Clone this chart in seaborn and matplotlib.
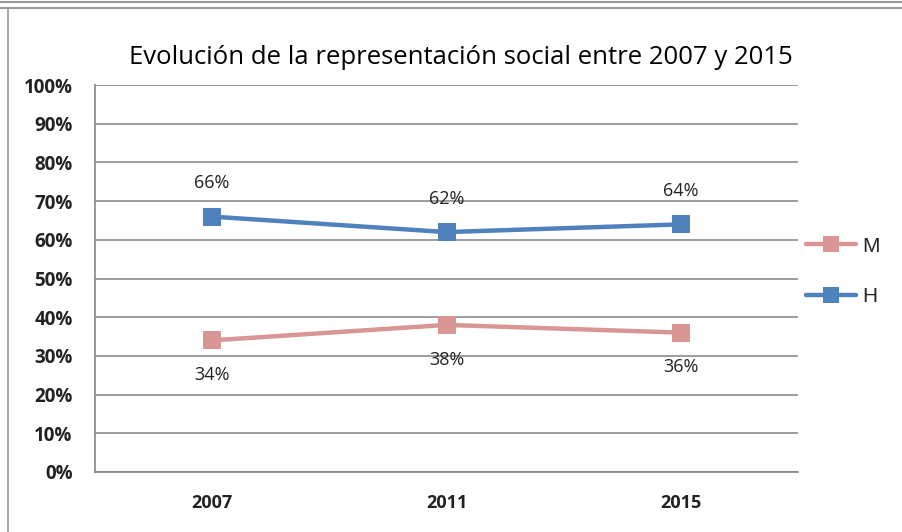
import matplotlib
matplotlib.use('Agg')
import matplotlib.pyplot as plt
import seaborn as sns
import pandas as pd
from matplotlib.lines import Line2D

years = ['2007', '2011', '2015']
series_names = ['M', 'H']
m_values = [34, 38, 36]
h_values = [66, 62, 64]
y_ticks = [0, 10, 20, 30, 40, 50, 60, 70, 80, 90, 100]

colors = {'M': '#D99694', 'H': '#4F81BD'}

df = pd.DataFrame({
    'pos': list(range(len(years))) * 2,
    'value': m_values + h_values,
    'serie': ['M'] * len(years) + ['H'] * len(years),
})

sns.set_style('white')
plt.rcParams['font.family'] = ['Open Sans', 'DejaVu Sans']

fig = plt.figure(figsize=(9.03, 5.32), dpi=100)
ax = fig.add_axes([0.105, 0.113, 0.779, 0.727])

sns.lineplot(data=df, x='pos', y='value', hue='serie', palette=colors,
             marker='s', markersize=13, linewidth=3.2, markeredgewidth=0,
             legend=False, ax=ax)

# data labels: H above, M below
for i, v in enumerate(h_values):
    ax.annotate(f'{v}%', (i, v), xytext=(0, 24), textcoords='offset points',
                ha='center', va='center', fontsize=13, color='#222222')
for i, v in enumerate(m_values):
    ax.annotate(f'{v}%', (i, v), xytext=(0, -25), textcoords='offset points',
                ha='center', va='center', fontsize=13, color='#222222')

ax.set_xlim(-0.5, 2.5)
ax.set_ylim(0, 100)
ax.set_yticks(y_ticks)
ax.set_yticklabels([f'{t}%' for t in y_ticks], fontsize=13.5, fontweight='bold',
                   color='#222222')
ax.set_xticks(range(len(years)))
ax.set_xticklabels(years, fontsize=13, fontweight='bold', color='#222222')
ax.tick_params(axis='x', length=0, pad=16)
ax.tick_params(axis='y', length=6, color='#888888', direction='out', pad=10)
ax.yaxis.grid(True, color='#8c8c8c', linewidth=1.2)
ax.set_axisbelow(True)
ax.set_xlabel('')
ax.set_ylabel('')
for side in ['top', 'right']:
    ax.spines[side].set_visible(False)
for side in ['left', 'bottom']:
    ax.spines[side].set_color('#888888')
    ax.spines[side].set_linewidth(1.2)

# category boundary ticks on the x axis
ax.set_xticks([-0.5, 0.5, 1.5, 2.5], minor=True)
ax.tick_params(axis='x', which='minor', length=6, color='#888888')

ax.set_title('Evolución de la representación social entre 2007 y 2015',
             fontsize=18.5, pad=15, x=0.52, color='black')

handles = [Line2D([0], [0], color=colors[s], marker='s', markersize=12,
                  linewidth=3.2, markeredgewidth=0) for s in series_names]
fig.legend(handles, series_names, loc='center left',
           bbox_to_anchor=(0.872, 0.49), frameon=False,
           handlelength=2.4, handletextpad=0.3, labelspacing=1.5,
           prop={'family': 'Liberation Sans', 'size': 15})

# outer frame lines like the screenshot
fig.add_artist(Line2D([0, 1], [0.996, 0.996], color='#999999', linewidth=1.5,
                      transform=fig.transFigure))
fig.add_artist(Line2D([0, 1], [0.985, 0.985], color='#999999', linewidth=1.5,
                      transform=fig.transFigure))
fig.add_artist(Line2D([0.009, 0.009], [0, 0.985], color='#999999', linewidth=1.2,
                      transform=fig.transFigure))

fig.savefig('out.png', dpi=100)
